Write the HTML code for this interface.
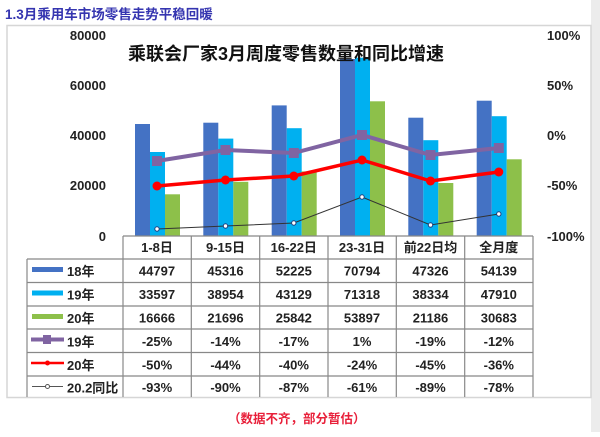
<!DOCTYPE html>
<html><head><meta charset="utf-8"><style>
html,body{margin:0;padding:0;background:#fff}
body{width:600px;height:432px;overflow:hidden}
text{font-family:"Liberation Sans","Noto Sans CJK SC",sans-serif;font-weight:bold}
</style></head><body>
<svg width="600" height="432" viewBox="0 0 600 432" xmlns="http://www.w3.org/2000/svg">
<rect x="591" y="0" width="9" height="432" fill="#ececec"/>
<text x="5" y="19" font-size="13.5" fill="#3535b0">1.3月乘用车市场零售走势平稳回暖</text>
<rect x="7" y="25.5" width="584" height="372" fill="#fff" stroke="#d6d6d6" stroke-width="1.5"/>
<g font-size="13" fill="#222" text-anchor="end">
<text x="106" y="40">80000</text><text x="106" y="90">60000</text><text x="106" y="140">40000</text><text x="106" y="190">20000</text><text x="106" y="241">0</text>
</g>
<g font-size="13" fill="#222">
<text x="547" y="40">100%</text><text x="547" y="90">50%</text><text x="547" y="140">0%</text><text x="547" y="190">-50%</text><text x="547" y="241">-100%</text>
</g>
<g id="bars"></g>
<g>
<!-- bars: col start 123 + 68.33*i, offsets 12,27,42 width 15; y=236-v*0.0025 -->
<rect x="135" y="124" width="15" height="112" fill="#4472c4"/><rect x="150" y="152" width="15" height="84" fill="#00b0f0"/><rect x="165" y="194.3" width="15" height="41.7" fill="#8dc04a"/>
<rect x="203.3" y="122.7" width="15" height="113.3" fill="#4472c4"/><rect x="218.3" y="138.6" width="15" height="97.4" fill="#00b0f0"/><rect x="233.3" y="181.8" width="15" height="54.2" fill="#8dc04a"/>
<rect x="271.7" y="105.4" width="15" height="130.6" fill="#4472c4"/><rect x="286.7" y="128.2" width="15" height="107.8" fill="#00b0f0"/><rect x="301.7" y="171.4" width="15" height="64.6" fill="#8dc04a"/>
<rect x="340" y="59" width="15" height="177" fill="#4472c4"/><rect x="355" y="57.7" width="15" height="178.3" fill="#00b0f0"/><rect x="370" y="101.3" width="15" height="134.7" fill="#8dc04a"/>
<rect x="408.3" y="117.7" width="15" height="118.3" fill="#4472c4"/><rect x="423.3" y="140.2" width="15" height="95.8" fill="#00b0f0"/><rect x="438.3" y="183" width="15" height="53" fill="#8dc04a"/>
<rect x="476.7" y="100.7" width="15" height="135.3" fill="#4472c4"/><rect x="491.7" y="116.2" width="15" height="119.8" fill="#00b0f0"/><rect x="506.7" y="159.3" width="15" height="76.7" fill="#8dc04a"/>
</g>
<text x="128" y="60" font-size="18" fill="#111">乘联会厂家3月周度零售数量和同比增速</text>
<polyline points="157,161 225.5,150 293.8,153 362,135 430.5,155 498.8,148" fill="none" stroke="#8064a2" stroke-width="4"/>
<g fill="#8064a2"><rect x="152" y="156" width="10" height="10"/><rect x="220.5" y="145" width="10" height="10"/><rect x="288.8" y="148" width="10" height="10"/><rect x="357" y="130" width="10" height="10"/><rect x="425.5" y="150" width="10" height="10"/><rect x="493.8" y="143" width="10" height="10"/></g>
<polyline points="157,186 225.5,180 293.8,176 362,160 430.5,181 498.8,172" fill="none" stroke="#ff0000" stroke-width="3.5"/>
<g fill="#ff0000"><circle cx="157" cy="186" r="4.5"/><circle cx="225.5" cy="180" r="4.5"/><circle cx="293.8" cy="176" r="4.5"/><circle cx="362" cy="160" r="4.5"/><circle cx="430.5" cy="181" r="4.5"/><circle cx="498.8" cy="172" r="4.5"/></g>
<polyline points="157,229 225.5,226 293.8,223 362,197 430.5,225 498.8,214" fill="none" stroke="#333" stroke-width="1"/>
<g fill="#fff" stroke="#1f3f7f" stroke-width="1"><circle cx="157" cy="229" r="2.2"/><circle cx="225.5" cy="226" r="2.2"/><circle cx="293.8" cy="223" r="2.2"/><circle cx="362" cy="197" r="2.2"/><circle cx="430.5" cy="225" r="2.2"/><circle cx="498.8" cy="214" r="2.2"/></g>
<!-- table -->
<g stroke="#888" stroke-width="1.2" fill="none">
<line x1="123" y1="236" x2="533" y2="236"/>
<line x1="27" y1="259" x2="533" y2="259"/>
<line x1="27" y1="282.5" x2="533" y2="282.5"/>
<line x1="27" y1="306" x2="533" y2="306"/>
<line x1="27" y1="329" x2="533" y2="329"/>
<line x1="27" y1="352.5" x2="533" y2="352.5"/>
<line x1="27" y1="376" x2="533" y2="376"/>
<line x1="27" y1="259" x2="27" y2="397"/>
<line x1="123" y1="236" x2="123" y2="397"/><line x1="191.3" y1="236" x2="191.3" y2="397"/><line x1="259.7" y1="236" x2="259.7" y2="397"/><line x1="328" y1="236" x2="328" y2="397"/><line x1="396.3" y1="236" x2="396.3" y2="397"/><line x1="464.7" y1="236" x2="464.7" y2="397"/><line x1="533" y1="236" x2="533" y2="397"/>
</g>
<g font-size="13" fill="#222" text-anchor="middle">
<text x="157" y="252">1-8日</text><text x="225.5" y="252">9-15日</text><text x="293.8" y="252">16-22日</text><text x="362" y="252">23-31日</text><text x="430.5" y="252">前22日均</text><text x="498.8" y="252">全月度</text>
<text x="157" y="275.5">44797</text><text x="225.5" y="275.5">45316</text><text x="293.8" y="275.5">52225</text><text x="362" y="275.5">70794</text><text x="430.5" y="275.5">47326</text><text x="498.8" y="275.5">54139</text>
<text x="157" y="299">33597</text><text x="225.5" y="299">38954</text><text x="293.8" y="299">43129</text><text x="362" y="299">71318</text><text x="430.5" y="299">38334</text><text x="498.8" y="299">47910</text>
<text x="157" y="322.5">16666</text><text x="225.5" y="322.5">21696</text><text x="293.8" y="322.5">25842</text><text x="362" y="322.5">53897</text><text x="430.5" y="322.5">21186</text><text x="498.8" y="322.5">30683</text>
<text x="157" y="346">-25%</text><text x="225.5" y="346">-14%</text><text x="293.8" y="346">-17%</text><text x="362" y="346">1%</text><text x="430.5" y="346">-19%</text><text x="498.8" y="346">-12%</text>
<text x="157" y="369.5">-50%</text><text x="225.5" y="369.5">-44%</text><text x="293.8" y="369.5">-40%</text><text x="362" y="369.5">-24%</text><text x="430.5" y="369.5">-45%</text><text x="498.8" y="369.5">-36%</text>
<text x="157" y="392">-93%</text><text x="225.5" y="392">-90%</text><text x="293.8" y="392">-87%</text><text x="362" y="392">-61%</text><text x="430.5" y="392">-89%</text><text x="498.8" y="392">-78%</text>
</g>
<rect x="32" y="267" width="31" height="5" fill="#4472c4"/>
<rect x="32" y="290.5" width="31" height="5" fill="#00b0f0"/>
<rect x="32" y="314" width="31" height="5" fill="#8dc04a"/>
<line x1="31" y1="339.5" x2="64" y2="339.5" stroke="#8064a2" stroke-width="4"/><rect x="43" y="335" width="8" height="9" fill="#8064a2"/>
<line x1="31" y1="363" x2="64" y2="363" stroke="#ff0000" stroke-width="2.5"/><circle cx="47.5" cy="363" r="2.5" fill="#ff0000"/>
<line x1="32" y1="386.5" x2="63" y2="386.5" stroke="#555" stroke-width="1"/><circle cx="47.5" cy="386.5" r="2" fill="#fff" stroke="#555"/>
<g font-size="13" fill="#222">
<text x="67" y="276">18年</text><text x="67" y="299.5">19年</text><text x="67" y="323">20年</text><text x="67" y="346.5">19年</text><text x="67" y="370">20年</text><text x="67" y="392.5">20.2同比</text>
</g>
<text x="228" y="423" font-size="12.5" fill="#e8203a">（数据不齐，部分暂估）</text>
</svg>
</body></html>
